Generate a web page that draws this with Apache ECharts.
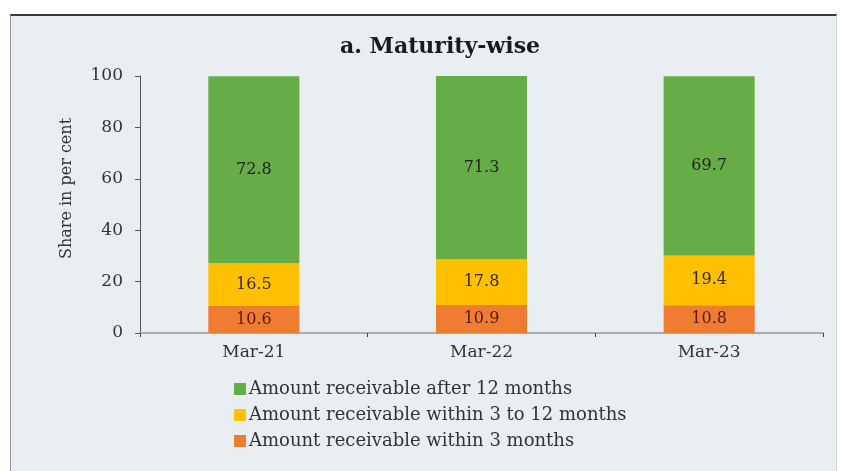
<!DOCTYPE html>
<html>
<head>
<meta charset="utf-8">
<script src="https://cdn.jsdelivr.net/npm/echarts@6/dist/echarts.min.js"></script>
<style>
  body { margin: 0; background: #fff; }
  #panel { position: absolute; left: 10px; top: 14px; width: 825px; height: 457px;
           background: #e9eef3; border-top: 2px solid #3c3c3c; border-left: 1px solid #9a9a9a; border-right: 1px solid #d0d4d8; }
  #chart { position: absolute; left: 0; top: 0; width: 841px; height: 471px; }
</style>
</head>
<body>
<div id="panel"></div>
<div id="chart"></div>
<script>
const categories = ['Mar-21', 'Mar-22', 'Mar-23']
const within3 = [10.6, 10.9, 10.8]
const within3to12 = [16.5, 17.8, 19.4]
const after12 = [72.8, 71.3, 69.7]
const seriesNames = [
  'Amount receivable after 12 months',
  'Amount receivable within 3 to 12 months',
  'Amount receivable within 3 months'
]

const font = 'DejaVu Serif'
const chart = echarts.init(document.getElementById('chart'))

function barSeries(name, data, color, labelColor) {
  return {
    name: name,
    type: 'bar',
    stack: 'total',
    barWidth: '40%',
    data: data,
    itemStyle: { color: color },
    label: {
      show: true,
      position: 'inside',
      fontFamily: font,
      fontSize: 16,
      color: labelColor
    }
  }
}

chart.setOption({
  animation: false,
  title: {
    text: 'a. Maturity-wise',
    left: 435,
    textAlign: 'center',
    top: 31,
    textStyle: { fontFamily: font, fontSize: 22, fontWeight: 'bold', color: '#1a1a1a' }
  },
  legend: {
    orient: 'vertical',
    left: 229,
    top: 375,
    itemWidth: 12,
    itemHeight: 12,
    itemGap: 8,
    icon: 'rect',
    data: seriesNames,
    textStyle: { fontFamily: font, fontSize: 18, color: '#333', padding: [0, 0, 0, -2] }
  },
  grid: { left: 140, right: 18, top: 76, bottom: 138 },
  xAxis: {
    type: 'category',
    data: categories,
    axisLine: { lineStyle: { color: '#a8acb0', width: 2 } },
    axisTick: { show: true, length: 4, lineStyle: { color: '#444' } },
    axisLabel: { fontFamily: font, fontSize: 17, color: '#333', margin: 11 }
  },
  yAxis: {
    type: 'value',
    min: 0,
    max: 100,
    interval: 20,
    name: 'Share in per cent',
    nameLocation: 'middle',
    nameGap: 65,
    nameTextStyle: { fontFamily: font, fontSize: 16, color: '#333', padding: [0, 0, 0, 32] },
    splitLine: { show: false },
    axisLine: { show: true, lineStyle: { color: '#555' } },
    axisTick: { show: true, length: 5, lineStyle: { color: '#555' } },
    axisLabel: { fontFamily: font, fontSize: 17, color: '#333', margin: 17 }
  },
  series: [
    barSeries(seriesNames[2], within3, '#ee7d31', '#5a1a0c'),
    barSeries(seriesNames[1], within3to12, '#ffc000', '#3a2a10'),
    barSeries(seriesNames[0], after12, '#66ad47', '#222')
  ]
})
</script>
</body>
</html>
